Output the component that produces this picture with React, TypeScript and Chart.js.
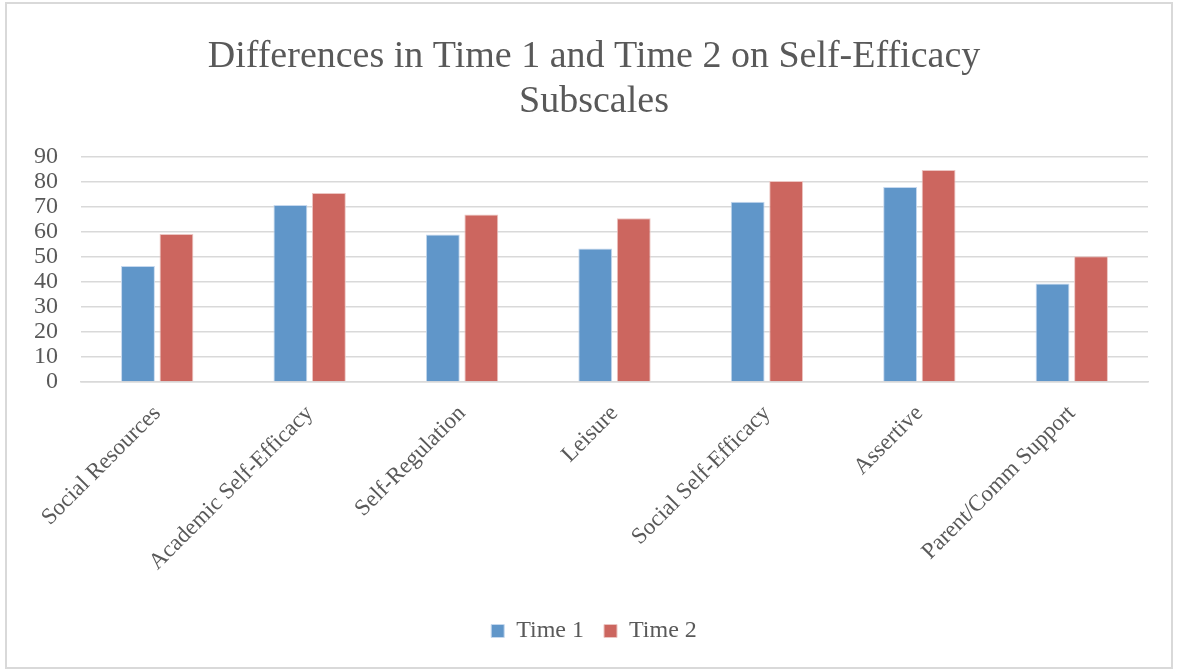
import React, { useEffect, useRef } from "react";
import { Chart, registerables } from "chart.js";

Chart.register(...registerables);

const categories = [
  "Social Resources",
  "Academic Self-Efficacy",
  "Self-Regulation",
  "Leisure",
  "Social Self-Efficacy",
  "Assertive",
  "Parent/Comm Support",
];
const time1 = [46.5, 70.9, 59.1, 53.5, 72.2, 78.1, 39.5];
const time2 = [59.3, 75.7, 67.1, 65.6, 80.5, 84.9, 50.4];
const titleLines = ["Differences in Time 1 and Time 2 on Self-Efficacy", "Subscales"];

export default function App() {
  const ref = useRef<HTMLCanvasElement>(null);
  useEffect(() => {
    document.body.style.margin = "0";
    const serif = "'Liberation Serif', 'DejaVu Serif', serif";
    const chart = new Chart(ref.current!, {
      type: "bar",
      data: {
        labels: categories,
        datasets: [
          {
            label: "Time 1",
            data: time1,
            backgroundColor: "#6096c9",
            borderColor: "#c5d8ee",
            borderWidth: 1,
            categoryPercentage: 0.505,
            barPercentage: 0.88,
          },
          {
            label: "Time 2",
            data: time2,
            backgroundColor: "#cc665f",
            borderColor: "#ecc5c2",
            borderWidth: 1,
            categoryPercentage: 0.505,
            barPercentage: 0.88,
          },
        ],
      },
      options: {
        animation: false,
        responsive: true,
        maintainAspectRatio: false,
        layout: { padding: { left: 20, right: 10, top: 30, bottom: 14 } },
        plugins: {
          title: {
            display: true,
            text: titleLines,
            color: "#595959",
            font: { family: serif, size: 38, weight: "normal", lineHeight: 1.2 },
            padding: { top: 0, bottom: 32 },
          },
          legend: {
            position: "bottom",
            labels: {
              color: "#595959",
              font: { family: serif, size: 24 },
              boxWidth: 13,
              boxHeight: 13,
              padding: 20,
            },
          },
          tooltip: { enabled: false },
        },
        scales: {
          x: {
            grid: { display: false },
            border: { display: true, color: "#d9d9d9", width: 1.5 },
            ticks: {
              color: "#595959",
              font: { family: serif, size: 23 },
              maxRotation: 45,
              minRotation: 45,
              autoSkip: false,
              padding: 10,
            },
            afterFit: (scale: any) => {
              scale.height += 13;
            },
          },
          y: {
            min: 0,
            max: 90,
            ticks: {
              stepSize: 10,
              autoSkip: false,
              color: "#595959",
              font: { family: serif, size: 24 },
              padding: 23,
            },
            grid: { color: "#d9d9d9", lineWidth: 1.5, drawTicks: false },
            border: { display: false },
            afterFit: (scale: any) => {
              scale.width = 54;
            },
          },
          yRight: {
            position: "right",
            display: true,
            min: 0,
            max: 90,
            ticks: { display: false },
            grid: { display: false, drawTicks: false },
            border: { display: false },
            afterFit: (scale: any) => {
              scale.width = 13;
            },
          },
        },
      },
    });
    return () => chart.destroy();
  }, []);
  return (
    <div
      style={{
        position: "absolute",
        left: 5,
        top: 2,
        width: 1168,
        height: 667,
        boxSizing: "border-box",
        border: "2px solid #d9d9d9",
        background: "#fff",
      }}
    >
      <canvas ref={ref} />
    </div>
  );
}
